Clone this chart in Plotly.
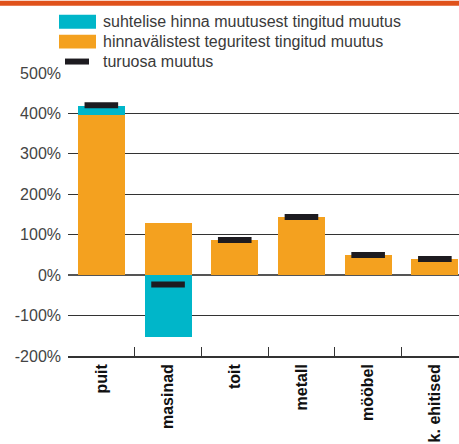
import plotly.graph_objects as go

categories = ["puit", "masinad", "toit", "metall", "mööbel", "k. ehitised"]
factor_change = [397, 130, 87, 144, 50, 40]      # hinnavälistest teguritest tingitud muutus
price_change = [22, -153, 0, 0, 0, 0]            # suhtelise hinna muutusest tingitud muutus
share_change = [420, -23, 87, 144, 50, 40]       # turuosa muutus
tick_vals = [-200, -100, 0, 100, 200, 300, 400, 500]
tick_text = ["-200%", "-100%", "0%", "100%", "200%", "300%", "400%", "500%"]
legend_labels = ["suhtelise hinna muutusest tingitud muutus",
                 "hinnavälistest teguritest tingitud muutus",
                 "turuosa muutus"]

ORANGE = "#F4A11F"
TEAL = "#00B6C9"
BLACK = "#1D1B20"
TOPBAR = "#E0521B"

W, H = 459, 444
L, R, T, B = 68, 459, 72.5, 356.5
PW, PH = R - L, B - T

def xp(px):
    return (px - L) / PW

def yp(py):
    return (B - py) / PH

fig = go.Figure()
fig.add_trace(go.Bar(x=categories, y=factor_change, marker=dict(color=ORANGE, line=dict(width=0)),
                     width=0.705, name=legend_labels[1], showlegend=False))
fig.add_trace(go.Bar(x=categories, y=price_change, marker=dict(color=TEAL, line=dict(width=0)),
                     width=0.705, name=legend_labels[0], showlegend=False))
fig.add_trace(go.Scatter(x=categories, y=share_change, mode="markers", name=legend_labels[2],
                         marker=dict(symbol="line-ew", size=24, color=BLACK,
                                     line=dict(width=6, color=BLACK)),
                         showlegend=False, cliponaxis=False))

shapes = []
annotations = []
# top orange band
shapes.append(dict(type="rect", xref="paper", yref="paper", x0=xp(0), x1=xp(W), y0=yp(0), y1=yp(5),
                   fillcolor=TOPBAR, line=dict(width=0), layer="above"))
# custom legend
shapes.append(dict(type="rect", xref="paper", yref="paper", x0=xp(59), x1=xp(96), y0=yp(14), y1=yp(28),
                   fillcolor=TEAL, line=dict(width=0)))
shapes.append(dict(type="rect", xref="paper", yref="paper", x0=xp(59), x1=xp(96), y0=yp(34), y1=yp(48),
                   fillcolor=ORANGE, line=dict(width=0)))
shapes.append(dict(type="rect", xref="paper", yref="paper", x0=xp(65), x1=xp(89), y0=yp(58), y1=yp(64),
                   fillcolor=BLACK, line=dict(width=0)))
for i, lab in enumerate(legend_labels):
    annotations.append(dict(text=lab, xref="paper", yref="paper", x=xp(101), y=yp(21 + 20 * i),
                            xanchor="left", yanchor="middle", showarrow=False,
                            font=dict(family="Liberation Sans, Arial, sans-serif", size=16, color="#3a3a3a")))

fig.update_layout(
    width=W, height=H,
    margin=dict(l=L, r=W - R, t=T, b=H - B, pad=0, autoexpand=False),
    paper_bgcolor="white", plot_bgcolor="white",
    barmode="relative", bargap=0,
    showlegend=False,
    shapes=shapes, annotations=annotations,
    font=dict(family="Liberation Sans, Arial, sans-serif", size=16, color="#444"),
    xaxis=dict(
        range=[-0.5, -0.5 + PW / 66.7],
        automargin=False,
        showgrid=False, zeroline=False,
        showline=True, linecolor="#333", linewidth=1.5,
        ticks="inside", ticklen=9, tickwidth=1, tickcolor="#333",
        tickson="boundaries", tickangle=-90,
        tickfont=dict(family="Liberation Sans, Arial, sans-serif", size=16, color="#111", weight="bold"),
        fixedrange=True,
    ),
    yaxis=dict(
        range=[-200, 500],
        automargin=False,
        tickvals=tick_vals, ticktext=tick_text,
        showgrid=True, gridcolor="#333", gridwidth=1,
        zeroline=True, zerolinecolor="#555", zerolinewidth=2,
        showline=False, ticks="", ticklabelstandoff=6,
        tickfont=dict(family="Liberation Sans, Arial, sans-serif", size=16, color="#444"),
        fixedrange=True,
    ),
)

fig.write_html("out.html", config={"displayModeBar": False},
               post_script="document.body.style.margin='0';document.body.style.overflow='hidden';")
